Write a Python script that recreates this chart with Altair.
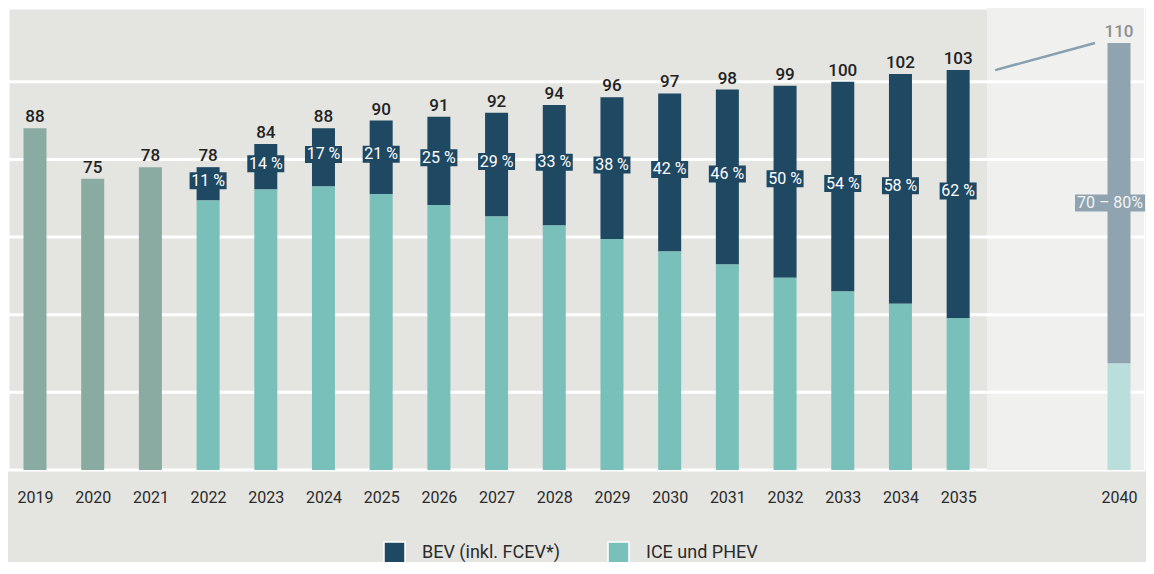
import altair as alt
import pandas as pd

# ---------------- data ----------------
hist_years = [2019, 2020, 2021]
hist_totals = [88, 75, 78]

years = [2022, 2023, 2024, 2025, 2026, 2027, 2028, 2029, 2030, 2031, 2032, 2033, 2034, 2035]
totals = [78, 84, 88, 90, 91, 92, 94, 96, 97, 98, 99, 100, 102, 103]
bev_pct = [11, 14, 17, 21, 25, 29, 33, 38, 42, 46, 50, 54, 58, 62]

year_2040 = 2040
total_2040 = 110
bev_label_2040 = "70 – 80%"
bev_mid_pct_2040 = 75

axis_years = hist_years + years + [year_2040]
grid_values = [20, 40, 60, 80, 100]
series_names = ["BEV (inkl. FCEV*)", "ICE und PHEV"]

# ---------------- styles ----------------
FONT = "Roboto"
BG = "#e4e4e0"
LIGHT_BG = "#f0f0ee"
C_HIST = "#8aaba2"
C_BEV = "#1f4862"
C_ICE = "#79c0bb"
C_BEV_40 = "#8fa4b0"
C_ICE_40 = "#b9dedc"
C_LINE = "#86a0b0"
TXT = "#2b2b2b"
BAR_W = 23
Y_MAX = 119
X_MIN, X_BREAK, X_MAX = 2018.532, 2035.5, 2040.43

xscale = alt.Scale(domain=[X_MIN, X_BREAK, 2040, X_MAX], range=[0, 979, 1111, 1136],
                   nice=False, zero=False, padding=0)
yscale = alt.Scale(domain=[0, Y_MAX], nice=False, zero=True)
xaxis = alt.Axis(values=axis_years, format="d", title=None, ticks=False, domain=False,
                 grid=False, labelFontSize=16, labelColor=TXT, labelFont=FONT,
                 labelPadding=19, labelFlush=False, labelOverlap=False)


def X(field=None, datum=None):
    if datum is not None:
        return alt.X(datum=datum, type="quantitative", scale=xscale, axis=xaxis, title=None)
    return alt.X(field, type="quantitative", scale=xscale, axis=xaxis, title=None)


def Y(field=None, datum=None):
    if datum is not None:
        return alt.Y(datum=datum, type="quantitative", scale=yscale, axis=None)
    return alt.Y(field, type="quantitative", scale=yscale, axis=None)


# ---------------- frames ----------------
hist_df = pd.DataFrame({"year": hist_years, "total": hist_totals})

df = pd.DataFrame({"year": years, "total": totals, "pct": bev_pct})
df["ice"] = df["total"] * (100 - df["pct"]) / 100
df["mid"] = (df["ice"] + df["total"]) / 2
df["pct_label"] = df["pct"].astype(str) + " %"

stack_rows = []
for _, r in df.iterrows():
    stack_rows.append({"year": r["year"], "series": series_names[0], "y0": r["ice"], "y1": r["total"]})
    stack_rows.append({"year": r["year"], "series": series_names[1], "y0": 0.0, "y1": r["ice"]})
stack_df = pd.DataFrame(stack_rows)

ice_2040 = total_2040 * (100 - bev_mid_pct_2040) / 100
df40 = pd.DataFrame({"year": [year_2040], "total": [total_2040], "ice": [ice_2040],
                     "mid": [(ice_2040 + total_2040) / 2], "label": [bev_label_2040]})

label_df = pd.concat([hist_df, df[["year", "total"]]], ignore_index=True)
one = pd.DataFrame({"k": [0]})
line_df = pd.DataFrame({"x0": [years[-1]], "x1": [year_2040], "y0": [totals[-1]], "y1": [total_2040]})

# ---------------- layers ----------------
light_rect = alt.Chart(one).mark_rect(color=LIGHT_BG).encode(
    x=X(datum=X_BREAK), x2=alt.X2(datum=X_MAX), y=Y(datum=0), y2=alt.Y2(datum=Y_MAX))

grid = alt.Chart(pd.DataFrame({"g": grid_values})).mark_rule(color="white", strokeWidth=3).encode(
    y=Y("g"))

hist_bars = alt.Chart(hist_df).mark_bar(size=BAR_W, color=C_HIST).encode(
    x=X("year"), y=Y("total"))

stack_bars = alt.Chart(stack_df).mark_bar(size=BAR_W).encode(
    x=X("year"), y=Y("y0"), y2="y1",
    color=alt.Color("series:N",
                    scale=alt.Scale(domain=series_names, range=[C_BEV, C_ICE]),
                    legend=alt.Legend(title=None, orient="none", legendX=375, legendY=533,
                                      direction="horizontal", symbolType="square",
                                      symbolSize=441, symbolStrokeColor="white",
                                      symbolStrokeWidth=1.5, symbolOpacity=1,
                                      labelFontSize=18, labelFont=FONT, labelColor=TXT,
                                      labelOffset=16, columnPadding=45, padding=0)))

bar40_ice = alt.Chart(df40).mark_bar(size=BAR_W, color=C_ICE_40).encode(
    x=X("year"), y=Y("ice"))
bar40_bev = alt.Chart(df40).mark_bar(size=BAR_W, color=C_BEV_40).encode(
    x=X("year"), y=Y("ice"), y2="total")

totals_text = alt.Chart(label_df).mark_text(
    baseline="alphabetic", dy=-6, fontSize=17, fontWeight=500, font=FONT, color="#222222").encode(
    x=X("year"), y=Y("total"), text=alt.Text("total:Q"))

total40_text = alt.Chart(df40).mark_text(
    baseline="alphabetic", dy=-6, fontSize=17, fontWeight=500, font=FONT, color="#8e8e8e").encode(
    x=X("year"), y=Y("total"), text=alt.Text("total:Q"))

pct_box = alt.Chart(df).mark_tick(orient="horizontal", size=37, thickness=17, color=C_BEV,
                                  opacity=1, yOffset=-3).encode(x=X("year"), y=Y("mid"))
pct_text = alt.Chart(df).mark_text(baseline="middle", fontSize=16, font=FONT, color="white",
                                   yOffset=-3).encode(x=X("year"), y=Y("mid"), text="pct_label:N")

box40 = alt.Chart(df40).mark_tick(orient="horizontal", size=70, thickness=17, color=C_BEV_40,
                                  opacity=1, xOffset=-9).encode(x=X("year"), y=Y("mid"))
text40 = alt.Chart(df40).mark_text(baseline="middle", fontSize=16, font=FONT,
                                   color="#f4f4f4", xOffset=-9).encode(
    x=X("year"), y=Y("mid"), text="label:N")

connector = alt.Chart(line_df).mark_rule(color=C_LINE, strokeWidth=2.5, xOffset=37,
                                         x2Offset=-24).encode(
    x=X("x0"), x2="x1", y=Y("y0"), y2="y1")

chart = alt.layer(
    light_rect, grid, hist_bars, stack_bars, bar40_ice, bar40_bev,
    totals_text, total40_text, pct_box, pct_text, box40, text40, connector
).properties(
    width=1136, height=462,
    padding={"left": 0, "top": 0, "right": 2, "bottom": 92},
    autosize=alt.AutoSizeParams(type="none"),
    background=BG,
).configure_view(
    fill=BG, stroke="white", strokeWidth=3
)

chart.save("out.html", embed_options={"renderer": "svg", "actions": False})
